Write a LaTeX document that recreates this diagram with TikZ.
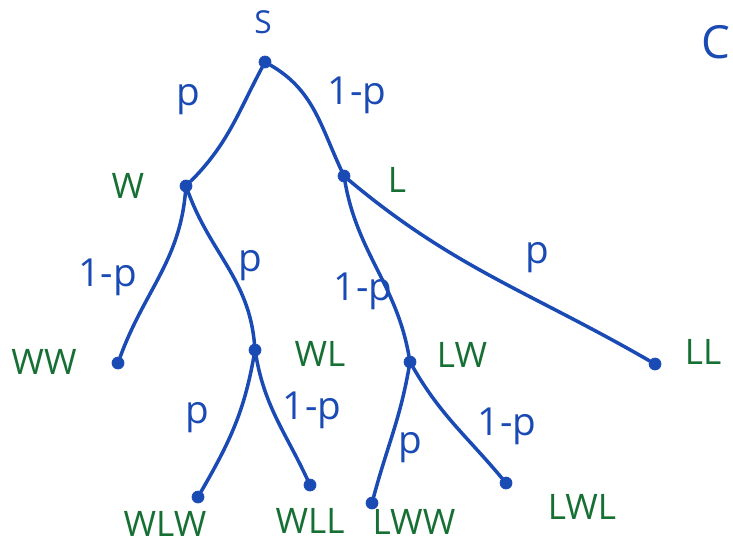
\documentclass[tikz,border=0pt]{standalone}
\usepackage{fontspec}
\setmainfont{Open Sans}
\usetikzlibrary{positioning}

\definecolor{inkblue}{RGB}{26,74,180}
\definecolor{inkgreen}{RGB}{22,112,52}

\begin{document}
\begin{tikzpicture}[
    x=0.02cm, y=-0.02cm,
    dot/.style={
        circle,
        fill=inkblue,
        draw=inkblue,
        inner sep=0pt,
        minimum size=0.24cm
    },
    edge/.style={
        draw=inkblue,
        line width=2pt,
        line cap=round
    },
    state/.style={
        text=inkgreen,
        font=\fontsize{20}{22}\selectfont
    },
    prob/.style={
        text=inkblue,
        font=\fontsize{22}{24}\selectfont
    }
]
\useasboundingbox (0,0) rectangle (733,544);

% tree nodes
\node[dot] (s) at (265,62) {};
\node[dot] (w) at (186,186) {};
\node[dot] (l) at (344,176) {};
\node[dot] (ww) at (118,363) {};
\node[dot] (wl) at (255,350) {};
\node[dot] (lw) at (410,362) {};
\node[dot] (ll) at (655,364) {};
\node[dot] (wlw) at (198,497) {};
\node[dot] (wll) at (310,485) {};
\node[dot] (lww) at (372,503) {};
\node[dot] (lwl) at (506,483) {};

% state names
\node[prob, font=\fontsize{18}{20}\selectfont] (slab) at (263,22) {S};
\node[state] (wlab) at (128,186) {W};
\node[state] (llab) at (397,180) {L};
\node[state] (wwlab) at (44,362) {WW};
\node[state] (wllab) at (320,354) {WL};
\node[state] (lwlab) at (462,355) {LW};
\node[state] (lllab) at (703,352) {LL};
\node[state] (wlwlab) at (165,524) {WLW};
\node[state] (wlllab) at (310,521) {WLL};
\node[state] (lwwlab) at (414,522) {LWW};
\node[state] (lwllab) at (582,507) {LWL};
\node[prob, font=\fontsize{26}{28}\selectfont] (corner) at (716,42) {C};

% branches
\draw[edge] (s) to[out=-118, in=45] (w);
\draw[edge] (s) to[out=-30, in=115] (l);
\draw[edge] (w) to[out=-95, in=70] (ww);
\draw[edge] (w) to[out=-70, in=95] (wl);
\draw[edge] (l) to[out=-80, in=100] (lw);
\draw[edge] (l) to[out=-40, in=150] (ll);
\draw[edge] (wl) to[out=-100, in=60] (wlw);
\draw[edge] (wl) to[out=-80, in=115] (wll);
\draw[edge] (lw) to[out=-100, in=75] (lww);
\draw[edge] (lw) to[out=-60, in=130] (lwl);

% branch probabilities
\node[prob] (p1) at (188,100) {p};
\node[prob] (q1) at (357,95) {1-p};
\node[prob] (q2) at (108,277) {1-p};
\node[prob] (p2) at (250,266) {p};
\node[prob] (q3) at (363,291) {1-p};
\node[prob] (p3) at (537,258) {p};
\node[prob] (p4) at (197,418) {p};
\node[prob] (q4) at (312,410) {1-p};
\node[prob] (p5) at (410,448) {p};
\node[prob] (q5) at (507,426) {1-p};

\end{tikzpicture}
\end{document}
